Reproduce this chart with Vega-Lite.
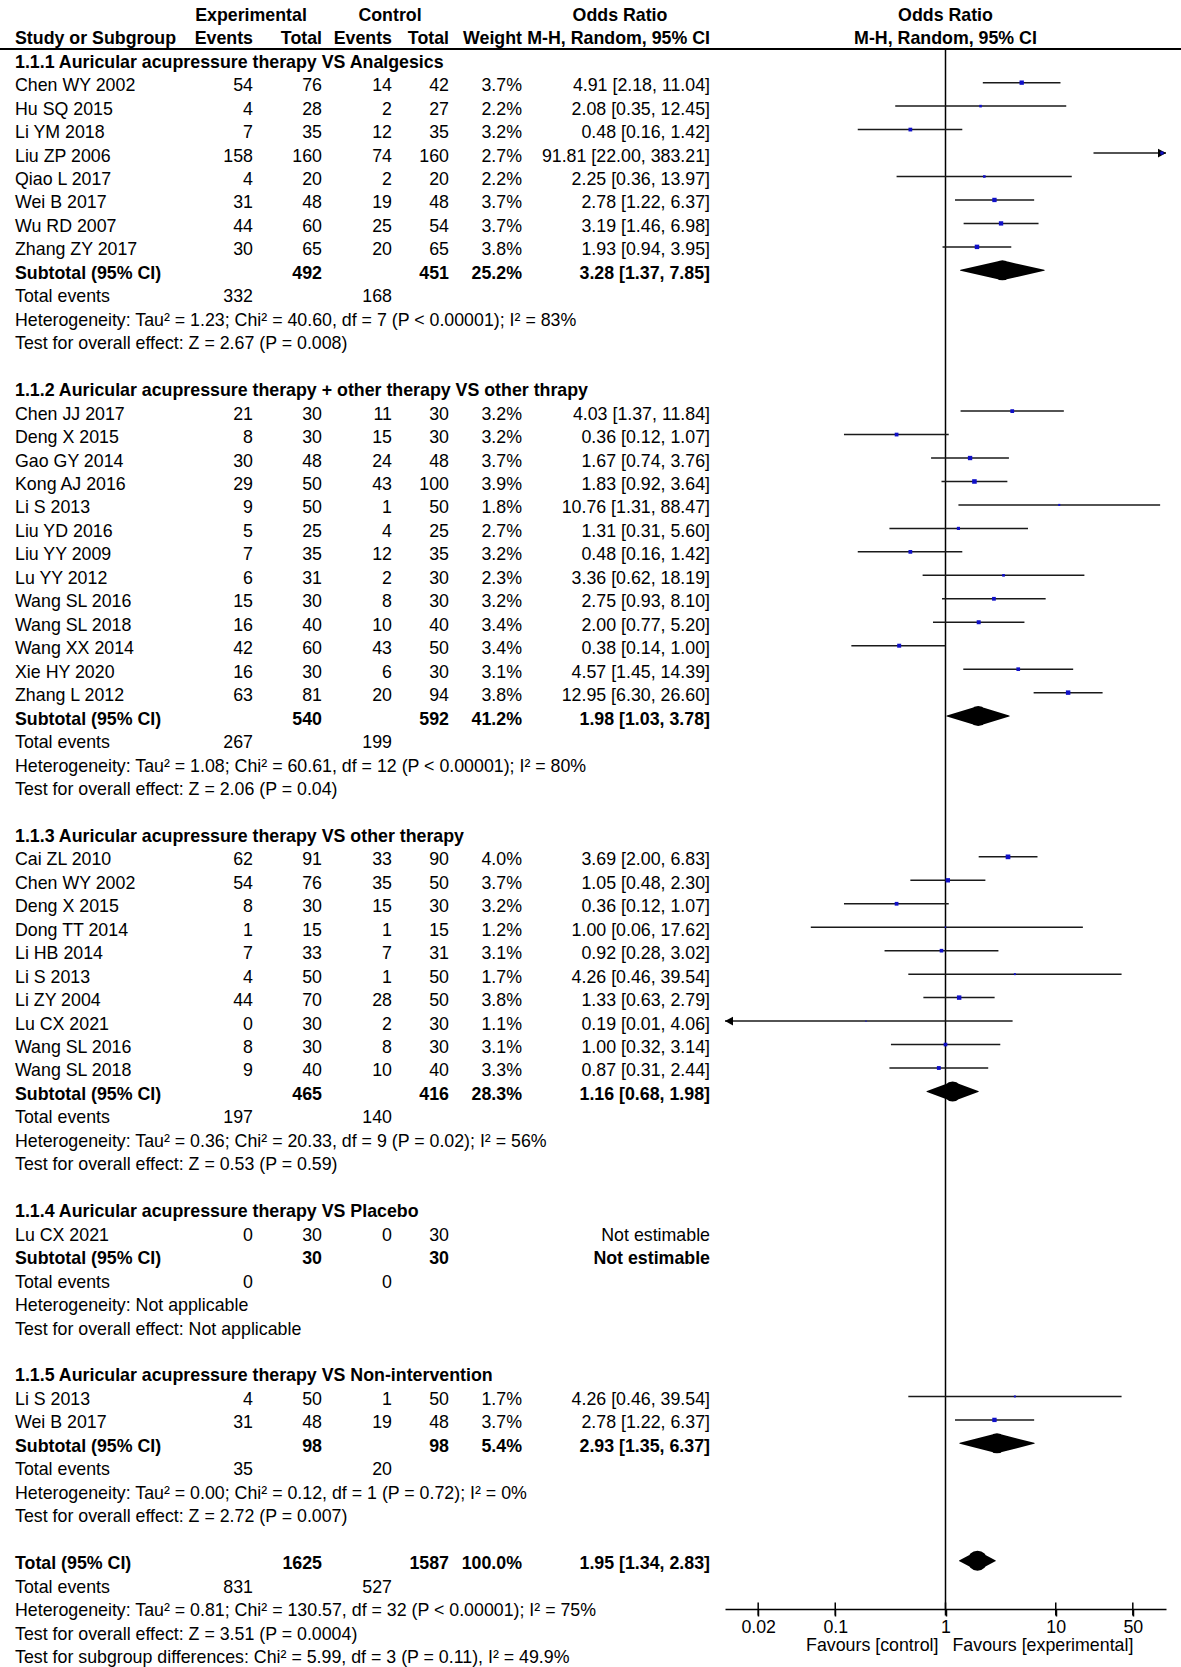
{
  "$schema": "https://vega.github.io/schema/vega-lite/v6.json",
  "width": 1181,
  "height": 1609,
  "autosize": {"type": "none"},
  "padding": {"left": 0, "top": 0, "right": 0, "bottom": 58},
  "background": "white",
  "config": {
    "view": {"stroke": null},
    "text": {"font": "Liberation Sans", "fontSize": 17.8, "baseline": "middle", "color": "#000", "dy": 3.5},
    "axis": {"grid": false}
  },
  "datasets": {
    "rows": [
      {"row": -1, "kind": "header", "bold": true, "gexp": "Experimental", "gctl": "Control", "gor": "Odds Ratio", "plot": "Odds Ratio"},
      {"row": 0, "kind": "header", "bold": true, "label": "Study or Subgroup", "ee": "Events", "et": "Total", "ce": "Events", "ct": "Total", "wlab": "Weight", "ortext": "M-H, Random, 95% CI", "plot": "M-H, Random, 95% CI"},
      {"row": 1, "kind": "heading", "bold": true, "label": "1.1.1 Auricular acupressure therapy VS Analgesics"},
      {"row": 2, "kind": "study", "label": "Chen WY 2002", "ee": 54, "et": 76, "ce": 14, "ct": 42, "w": 0.037, "est": 4.91, "lo": 2.18, "hi": 11.04, "ortext": "4.91 [2.18, 11.04]"},
      {"row": 3, "kind": "study", "label": "Hu SQ 2015", "ee": 4, "et": 28, "ce": 2, "ct": 27, "w": 0.022, "est": 2.08, "lo": 0.35, "hi": 12.45, "ortext": "2.08 [0.35, 12.45]"},
      {"row": 4, "kind": "study", "label": "Li YM 2018", "ee": 7, "et": 35, "ce": 12, "ct": 35, "w": 0.032, "est": 0.48, "lo": 0.16, "hi": 1.42, "ortext": "0.48 [0.16, 1.42]"},
      {"row": 5, "kind": "study", "label": "Liu ZP 2006", "ee": 158, "et": 160, "ce": 74, "ct": 160, "w": 0.027, "est": 91.81, "lo": 22.0, "hi": 383.21, "ortext": "91.81 [22.00, 383.21]"},
      {"row": 6, "kind": "study", "label": "Qiao L 2017", "ee": 4, "et": 20, "ce": 2, "ct": 20, "w": 0.022, "est": 2.25, "lo": 0.36, "hi": 13.97, "ortext": "2.25 [0.36, 13.97]"},
      {"row": 7, "kind": "study", "label": "Wei B 2017", "ee": 31, "et": 48, "ce": 19, "ct": 48, "w": 0.037, "est": 2.78, "lo": 1.22, "hi": 6.37, "ortext": "2.78 [1.22, 6.37]"},
      {"row": 8, "kind": "study", "label": "Wu RD 2007", "ee": 44, "et": 60, "ce": 25, "ct": 54, "w": 0.037, "est": 3.19, "lo": 1.46, "hi": 6.98, "ortext": "3.19 [1.46, 6.98]"},
      {"row": 9, "kind": "study", "label": "Zhang ZY 2017", "ee": 30, "et": 65, "ce": 20, "ct": 65, "w": 0.038, "est": 1.93, "lo": 0.94, "hi": 3.95, "ortext": "1.93 [0.94, 3.95]"},
      {"row": 10, "kind": "sub", "bold": true, "label": "Subtotal (95% CI)", "et": 492, "ct": 451, "w": 0.252, "est": 3.28, "lo": 1.37, "hi": 7.85, "ortext": "3.28 [1.37, 7.85]"},
      {"row": 11, "kind": "events", "label": "Total events", "ee": 332, "ce": 168},
      {"row": 12, "kind": "note", "label": "Heterogeneity: Tau² = 1.23; Chi² = 40.60, df = 7 (P < 0.00001); I² = 83%"},
      {"row": 13, "kind": "note", "label": "Test for overall effect: Z = 2.67 (P = 0.008)"},
      {"row": 15, "kind": "heading", "bold": true, "label": "1.1.2 Auricular acupressure therapy + other therapy VS other thrapy"},
      {"row": 16, "kind": "study", "label": "Chen JJ 2017", "ee": 21, "et": 30, "ce": 11, "ct": 30, "w": 0.032, "est": 4.03, "lo": 1.37, "hi": 11.84, "ortext": "4.03 [1.37, 11.84]"},
      {"row": 17, "kind": "study", "label": "Deng X 2015", "ee": 8, "et": 30, "ce": 15, "ct": 30, "w": 0.032, "est": 0.36, "lo": 0.12, "hi": 1.07, "ortext": "0.36 [0.12, 1.07]"},
      {"row": 18, "kind": "study", "label": "Gao GY 2014", "ee": 30, "et": 48, "ce": 24, "ct": 48, "w": 0.037, "est": 1.67, "lo": 0.74, "hi": 3.76, "ortext": "1.67 [0.74, 3.76]"},
      {"row": 19, "kind": "study", "label": "Kong AJ 2016", "ee": 29, "et": 50, "ce": 43, "ct": 100, "w": 0.039, "est": 1.83, "lo": 0.92, "hi": 3.64, "ortext": "1.83 [0.92, 3.64]"},
      {"row": 20, "kind": "study", "label": "Li S 2013", "ee": 9, "et": 50, "ce": 1, "ct": 50, "w": 0.018, "est": 10.76, "lo": 1.31, "hi": 88.47, "ortext": "10.76 [1.31, 88.47]"},
      {"row": 21, "kind": "study", "label": "Liu YD 2016", "ee": 5, "et": 25, "ce": 4, "ct": 25, "w": 0.027, "est": 1.31, "lo": 0.31, "hi": 5.6, "ortext": "1.31 [0.31, 5.60]"},
      {"row": 22, "kind": "study", "label": "Liu YY 2009", "ee": 7, "et": 35, "ce": 12, "ct": 35, "w": 0.032, "est": 0.48, "lo": 0.16, "hi": 1.42, "ortext": "0.48 [0.16, 1.42]"},
      {"row": 23, "kind": "study", "label": "Lu YY 2012", "ee": 6, "et": 31, "ce": 2, "ct": 30, "w": 0.023, "est": 3.36, "lo": 0.62, "hi": 18.19, "ortext": "3.36 [0.62, 18.19]"},
      {"row": 24, "kind": "study", "label": "Wang SL 2016", "ee": 15, "et": 30, "ce": 8, "ct": 30, "w": 0.032, "est": 2.75, "lo": 0.93, "hi": 8.1, "ortext": "2.75 [0.93, 8.10]"},
      {"row": 25, "kind": "study", "label": "Wang SL 2018", "ee": 16, "et": 40, "ce": 10, "ct": 40, "w": 0.034, "est": 2.0, "lo": 0.77, "hi": 5.2, "ortext": "2.00 [0.77, 5.20]"},
      {"row": 26, "kind": "study", "label": "Wang XX 2014", "ee": 42, "et": 60, "ce": 43, "ct": 50, "w": 0.034, "est": 0.38, "lo": 0.14, "hi": 1.0, "ortext": "0.38 [0.14, 1.00]"},
      {"row": 27, "kind": "study", "label": "Xie HY 2020", "ee": 16, "et": 30, "ce": 6, "ct": 30, "w": 0.031, "est": 4.57, "lo": 1.45, "hi": 14.39, "ortext": "4.57 [1.45, 14.39]"},
      {"row": 28, "kind": "study", "label": "Zhang L 2012", "ee": 63, "et": 81, "ce": 20, "ct": 94, "w": 0.038, "est": 12.95, "lo": 6.3, "hi": 26.6, "ortext": "12.95 [6.30, 26.60]"},
      {"row": 29, "kind": "sub", "bold": true, "label": "Subtotal (95% CI)", "et": 540, "ct": 592, "w": 0.412, "est": 1.98, "lo": 1.03, "hi": 3.78, "ortext": "1.98 [1.03, 3.78]"},
      {"row": 30, "kind": "events", "label": "Total events", "ee": 267, "ce": 199},
      {"row": 31, "kind": "note", "label": "Heterogeneity: Tau² = 1.08; Chi² = 60.61, df = 12 (P < 0.00001); I² = 80%"},
      {"row": 32, "kind": "note", "label": "Test for overall effect: Z = 2.06 (P = 0.04)"},
      {"row": 34, "kind": "heading", "bold": true, "label": "1.1.3 Auricular acupressure therapy VS other therapy"},
      {"row": 35, "kind": "study", "label": "Cai ZL 2010", "ee": 62, "et": 91, "ce": 33, "ct": 90, "w": 0.04, "est": 3.69, "lo": 2.0, "hi": 6.83, "ortext": "3.69 [2.00, 6.83]"},
      {"row": 36, "kind": "study", "label": "Chen WY 2002", "ee": 54, "et": 76, "ce": 35, "ct": 50, "w": 0.037, "est": 1.05, "lo": 0.48, "hi": 2.3, "ortext": "1.05 [0.48, 2.30]"},
      {"row": 37, "kind": "study", "label": "Deng X 2015", "ee": 8, "et": 30, "ce": 15, "ct": 30, "w": 0.032, "est": 0.36, "lo": 0.12, "hi": 1.07, "ortext": "0.36 [0.12, 1.07]"},
      {"row": 38, "kind": "study", "label": "Dong TT 2014", "ee": 1, "et": 15, "ce": 1, "ct": 15, "w": 0.012, "est": 1.0, "lo": 0.06, "hi": 17.62, "ortext": "1.00 [0.06, 17.62]"},
      {"row": 39, "kind": "study", "label": "Li HB 2014", "ee": 7, "et": 33, "ce": 7, "ct": 31, "w": 0.031, "est": 0.92, "lo": 0.28, "hi": 3.02, "ortext": "0.92 [0.28, 3.02]"},
      {"row": 40, "kind": "study", "label": "Li S 2013", "ee": 4, "et": 50, "ce": 1, "ct": 50, "w": 0.017, "est": 4.26, "lo": 0.46, "hi": 39.54, "ortext": "4.26 [0.46, 39.54]"},
      {"row": 41, "kind": "study", "label": "Li ZY 2004", "ee": 44, "et": 70, "ce": 28, "ct": 50, "w": 0.038, "est": 1.33, "lo": 0.63, "hi": 2.79, "ortext": "1.33 [0.63, 2.79]"},
      {"row": 42, "kind": "study", "label": "Lu CX 2021", "ee": 0, "et": 30, "ce": 2, "ct": 30, "w": 0.011, "est": 0.19, "lo": 0.01, "hi": 4.06, "ortext": "0.19 [0.01, 4.06]"},
      {"row": 43, "kind": "study", "label": "Wang SL 2016", "ee": 8, "et": 30, "ce": 8, "ct": 30, "w": 0.031, "est": 1.0, "lo": 0.32, "hi": 3.14, "ortext": "1.00 [0.32, 3.14]"},
      {"row": 44, "kind": "study", "label": "Wang SL 2018", "ee": 9, "et": 40, "ce": 10, "ct": 40, "w": 0.033, "est": 0.87, "lo": 0.31, "hi": 2.44, "ortext": "0.87 [0.31, 2.44]"},
      {"row": 45, "kind": "sub", "bold": true, "label": "Subtotal (95% CI)", "et": 465, "ct": 416, "w": 0.283, "est": 1.16, "lo": 0.68, "hi": 1.98, "ortext": "1.16 [0.68, 1.98]"},
      {"row": 46, "kind": "events", "label": "Total events", "ee": 197, "ce": 140},
      {"row": 47, "kind": "note", "label": "Heterogeneity: Tau² = 0.36; Chi² = 20.33, df = 9 (P = 0.02); I² = 56%"},
      {"row": 48, "kind": "note", "label": "Test for overall effect: Z = 0.53 (P = 0.59)"},
      {"row": 50, "kind": "heading", "bold": true, "label": "1.1.4 Auricular acupressure therapy VS Placebo"},
      {"row": 51, "kind": "study", "label": "Lu CX 2021", "ee": 0, "et": 30, "ce": 0, "ct": 30, "ortext": "Not estimable"},
      {"row": 52, "kind": "sub", "bold": true, "label": "Subtotal (95% CI)", "et": 30, "ct": 30, "ortext": "Not estimable"},
      {"row": 53, "kind": "events", "label": "Total events", "ee": 0, "ce": 0},
      {"row": 54, "kind": "note", "label": "Heterogeneity: Not applicable"},
      {"row": 55, "kind": "note", "label": "Test for overall effect: Not applicable"},
      {"row": 57, "kind": "heading", "bold": true, "label": "1.1.5 Auricular acupressure therapy VS Non-intervention"},
      {"row": 58, "kind": "study", "label": "Li S 2013", "ee": 4, "et": 50, "ce": 1, "ct": 50, "w": 0.017, "est": 4.26, "lo": 0.46, "hi": 39.54, "ortext": "4.26 [0.46, 39.54]"},
      {"row": 59, "kind": "study", "label": "Wei B 2017", "ee": 31, "et": 48, "ce": 19, "ct": 48, "w": 0.037, "est": 2.78, "lo": 1.22, "hi": 6.37, "ortext": "2.78 [1.22, 6.37]"},
      {"row": 60, "kind": "sub", "bold": true, "label": "Subtotal (95% CI)", "et": 98, "ct": 98, "w": 0.054, "est": 2.93, "lo": 1.35, "hi": 6.37, "ortext": "2.93 [1.35, 6.37]"},
      {"row": 61, "kind": "events", "label": "Total events", "ee": 35, "ce": 20},
      {"row": 62, "kind": "note", "label": "Heterogeneity: Tau² = 0.00; Chi² = 0.12, df = 1 (P = 0.72); I² = 0%"},
      {"row": 63, "kind": "note", "label": "Test for overall effect: Z = 2.72 (P = 0.007)"},
      {"row": 65, "kind": "total", "bold": true, "label": "Total (95% CI)", "et": 1625, "ct": 1587, "w": 1.0, "est": 1.95, "lo": 1.34, "hi": 2.83, "ortext": "1.95 [1.34, 2.83]"},
      {"row": 66, "kind": "events", "label": "Total events", "ee": 831, "ce": 527},
      {"row": 67, "kind": "note", "label": "Heterogeneity: Tau² = 0.81; Chi² = 130.57, df = 32 (P < 0.00001); I² = 75%"},
      {"row": 68, "kind": "note", "label": "Test for overall effect: Z = 3.51 (P = 0.0004)"},
      {"row": 69, "kind": "note", "label": "Test for subgroup differences: Chi² = 5.99, df = 3 (P = 0.11), I² = 49.9%"}
    ],
    "favours": [
      {"side": "control", "label": "Favours [control]"},
      {"side": "experimental", "label": "Favours [experimental]"}
    ],
    "ticks": [
      {"t": 0.02}, {"t": 0.1}, {"t": 1}, {"t": 10}, {"t": 50}
    ]
  },
  "layer": [
    {
      "data": {"name": "rows"},
      "layer": [
        {
          "transform": [{"filter": "isValid(datum.label)"}],
          "mark": {"type": "text", "align": "left", "fontWeight": {"expr": "datum.bold ? 'bold' : 'normal'"}},
          "encoding": {
            "x": {"datum": 0, "type": "quantitative", "axis": null,
                  "scale": {"domain": [0, 1, 2, 3, 4, 5, 6, 7, 8, 9, 10], "range": [15, 251, 253, 322, 390, 392, 449, 522, 620, 710, 1181], "nice": false, "zero": false}},
            "y": {"field": "row", "type": "quantitative", "axis": null,
                  "scale": {"domain": [-1.523, 67.06], "reverse": true, "nice": false, "zero": false}},
            "text": {"field": "label"}
          }
        },
        {
          "transform": [{"filter": "isValid(datum.gexp)"}],
          "mark": {"type": "text", "align": "center", "fontWeight": "bold"},
          "encoding": {"x": {"datum": 1, "type": "quantitative", "axis": null}, "y": {"field": "row", "type": "quantitative"}, "text": {"field": "gexp"}}
        },
        {
          "transform": [{"filter": "isValid(datum.ee)"}],
          "mark": {"type": "text", "align": "right", "fontWeight": {"expr": "datum.bold ? 'bold' : 'normal'"}},
          "encoding": {"x": {"datum": 2, "type": "quantitative", "axis": null}, "y": {"field": "row", "type": "quantitative"}, "text": {"field": "ee"}}
        },
        {
          "transform": [{"filter": "isValid(datum.et)"}],
          "mark": {"type": "text", "align": "right", "fontWeight": {"expr": "datum.bold ? 'bold' : 'normal'"}},
          "encoding": {"x": {"datum": 3, "type": "quantitative", "axis": null}, "y": {"field": "row", "type": "quantitative"}, "text": {"field": "et"}}
        },
        {
          "transform": [{"filter": "isValid(datum.gctl)"}],
          "mark": {"type": "text", "align": "center", "fontWeight": "bold"},
          "encoding": {"x": {"datum": 4, "type": "quantitative", "axis": null}, "y": {"field": "row", "type": "quantitative"}, "text": {"field": "gctl"}}
        },
        {
          "transform": [{"filter": "isValid(datum.ce)"}],
          "mark": {"type": "text", "align": "right", "fontWeight": {"expr": "datum.bold ? 'bold' : 'normal'"}},
          "encoding": {"x": {"datum": 5, "type": "quantitative", "axis": null}, "y": {"field": "row", "type": "quantitative"}, "text": {"field": "ce"}}
        },
        {
          "transform": [{"filter": "isValid(datum.ct)"}],
          "mark": {"type": "text", "align": "right", "fontWeight": {"expr": "datum.bold ? 'bold' : 'normal'"}},
          "encoding": {"x": {"datum": 6, "type": "quantitative", "axis": null}, "y": {"field": "row", "type": "quantitative"}, "text": {"field": "ct"}}
        },
        {
          "transform": [{"filter": "isValid(datum.w)"}],
          "mark": {"type": "text", "align": "right", "fontWeight": {"expr": "datum.bold ? 'bold' : 'normal'"}},
          "encoding": {"x": {"datum": 7, "type": "quantitative", "axis": null}, "y": {"field": "row", "type": "quantitative"}, "text": {"field": "w", "type": "quantitative", "format": ".1%"}}
        },
        {
          "transform": [{"filter": "isValid(datum.wlab)"}],
          "mark": {"type": "text", "align": "right", "fontWeight": "bold"},
          "encoding": {"x": {"datum": 7, "type": "quantitative", "axis": null}, "y": {"field": "row", "type": "quantitative"}, "text": {"field": "wlab"}}
        },
        {
          "transform": [{"filter": "isValid(datum.gor)"}],
          "mark": {"type": "text", "align": "center", "fontWeight": "bold"},
          "encoding": {"x": {"datum": 8, "type": "quantitative", "axis": null}, "y": {"field": "row", "type": "quantitative"}, "text": {"field": "gor"}}
        },
        {
          "transform": [{"filter": "isValid(datum.ortext)"}],
          "mark": {"type": "text", "align": "right", "fontWeight": {"expr": "datum.bold ? 'bold' : 'normal'"}},
          "encoding": {"x": {"datum": 9, "type": "quantitative", "axis": null}, "y": {"field": "row", "type": "quantitative"}, "text": {"field": "ortext"}}
        }
      ]
    },
    {
      "data": {"name": "rows"},
      "layer": [
        {
          "transform": [{"filter": "datum.row == 0"}],
          "mark": {"type": "rule", "color": "#000", "strokeWidth": 2},
          "encoding": {"y": {"datum": 0.565, "type": "quantitative"}}
        },
        {
          "transform": [{"filter": "datum.row == 0"}],
          "mark": {"type": "rule", "color": "#000", "strokeWidth": 1.5},
          "encoding": {"x": {"datum": 1, "type": "quantitative"}, "y": {"datum": 0.565, "type": "quantitative"}, "y2": {"datum": 67.06}}
        },
        {
          "transform": [{"filter": "datum.kind == 'study' && isValid(datum.est)"}],
          "mark": {"type": "rule", "color": "#1a1a1a", "strokeWidth": 1.5},
          "encoding": {
            "x": {"field": "lo", "type": "quantitative",
                  "scale": {"type": "log", "domain": [0.01, 100], "range": [725, 1166], "clamp": true, "nice": false},
                  "axis": {"orient": "bottom", "values": [0.02, 0.1, 1, 10, 50], "format": "~g", "title": null,
                           "domainColor": "#000", "domainWidth": 1.5, "tickColor": "#000", "tickWidth": 1.5, "tickSize": 7,
                           "labelFont": "Liberation Sans", "labelFontSize": 17.8, "labelColor": "#000", "labelPadding": 2,
                           "labelFlush": false, "labelOverlap": false}},
            "x2": {"field": "hi"},
            "y": {"field": "row", "type": "quantitative"}
          }
        },
        {
          "data": {"name": "ticks"},
          "mark": {"type": "tick", "orient": "vertical", "size": 13, "thickness": 1.5, "color": "#000", "opacity": 1},
          "encoding": {"x": {"field": "t", "type": "quantitative"}, "y": {"datum": 67.06, "type": "quantitative"}}
        },
        {
          "transform": [{"filter": "datum.kind == 'study' && datum.hi > 100"}],
          "mark": {"type": "point", "shape": "M0,0 L-1,-0.55 L-1,0.55 Z", "filled": true, "color": "#000", "opacity": 1, "size": 256},
          "encoding": {"x": {"field": "hi", "type": "quantitative"}, "y": {"field": "row", "type": "quantitative"}}
        },
        {
          "transform": [{"filter": "datum.kind == 'study' && datum.lo <= 0.01"}],
          "mark": {"type": "point", "shape": "M0,0 L1,-0.55 L1,0.55 Z", "filled": true, "color": "#000", "opacity": 1, "size": 256},
          "encoding": {"x": {"field": "lo", "type": "quantitative"}, "y": {"field": "row", "type": "quantitative"}}
        },
        {
          "transform": [{"filter": "datum.kind == 'study' && isValid(datum.est)"}],
          "mark": {"type": "point", "shape": "square", "filled": true, "color": "#1010c8", "opacity": 1},
          "encoding": {
            "x": {"field": "est", "type": "quantitative"},
            "y": {"field": "row", "type": "quantitative"},
            "size": {"field": "w", "type": "quantitative", "scale": {"type": "pow", "exponent": 2, "domain": [0, 0.04], "range": [0, 22]}, "legend": null}
          }
        },
        {
          "transform": [
            {"filter": "(datum.kind == 'sub' || datum.kind == 'total') && isValid(datum.est)"},
            {"fold": ["lo", "est", "hi"], "as": ["end", "v"]}
          ],
          "mark": {"type": "trail", "color": "#000"},
          "encoding": {
            "x": {"field": "v", "type": "quantitative"},
            "y": {"field": "row", "type": "quantitative"},
            "detail": {"field": "row"},
            "order": {"field": "v", "type": "quantitative"},
            "size": {"condition": {"test": "datum.end === 'est'", "value": 20}, "value": 0}
          }
        },
        {
          "transform": [{"filter": "isValid(datum.plot)"}],
          "mark": {"type": "text", "align": "center", "fontWeight": "bold"},
          "encoding": {"x": {"datum": 1, "type": "quantitative"}, "y": {"field": "row", "type": "quantitative"}, "text": {"field": "plot"}}
        },
        {
          "data": {"name": "favours"},
          "transform": [{"filter": "datum.side == 'control'"}],
          "mark": {"type": "text", "align": "right", "dx": -7},
          "encoding": {"x": {"datum": 1, "type": "quantitative"}, "y": {"datum": 68.5, "type": "quantitative"}, "text": {"field": "label"}}
        },
        {
          "data": {"name": "favours"},
          "transform": [{"filter": "datum.side == 'experimental'"}],
          "mark": {"type": "text", "align": "left", "dx": 7},
          "encoding": {"x": {"datum": 1, "type": "quantitative"}, "y": {"datum": 68.5, "type": "quantitative"}, "text": {"field": "label"}}
        }
      ],
      "resolve": {"scale": {"size": "independent"}}
    }
  ],
  "resolve": {"scale": {"x": "independent"}}
}
